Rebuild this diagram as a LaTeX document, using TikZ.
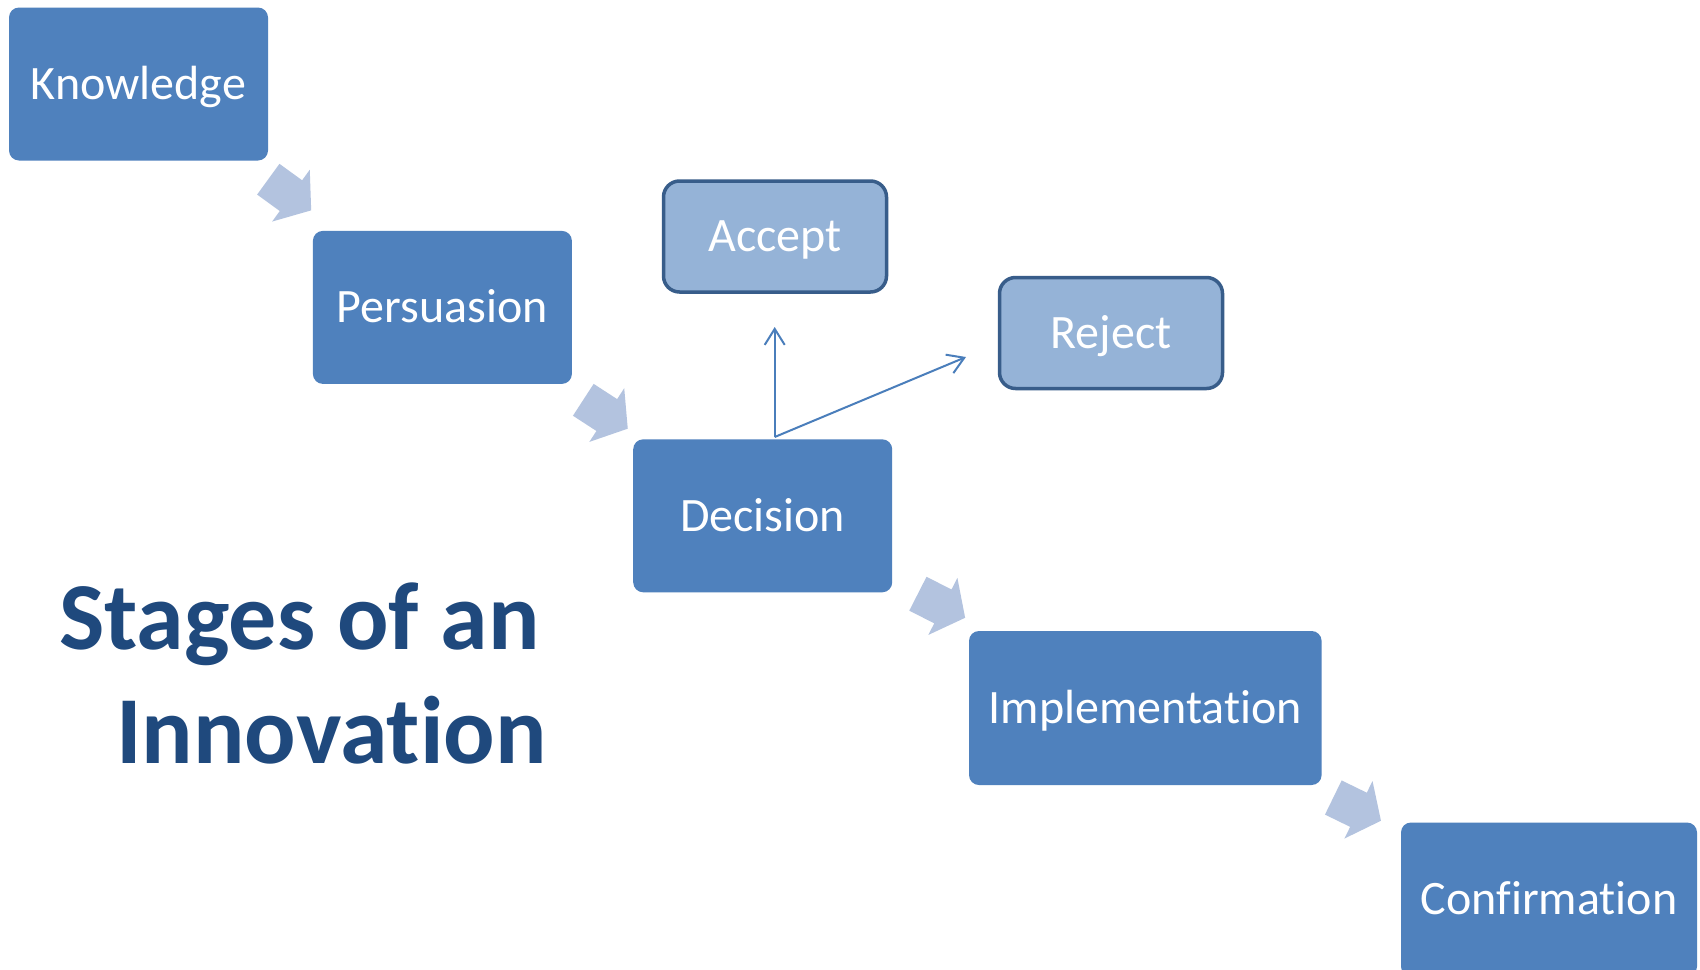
\documentclass[tikz,border=0pt]{standalone}
\usepackage{fontspec}
\setmainfont{Carlito}[Ligatures={NoCommon,NoRequired}]
\usetikzlibrary{arrows.meta}
\definecolor{boxblue}{HTML}{4F81BD}
\definecolor{lightbox}{HTML}{95B3D7}
\definecolor{lightborder}{HTML}{385D8A}
\definecolor{chevcol}{HTML}{B3C3DF}
\definecolor{titleblue}{HTML}{1F497D}
\definecolor{linkblue}{HTML}{4A7EBB}
\tikzset{
  stage/.style={fill=boxblue, draw=none, rounded corners=5pt, inner sep=0pt,
    text=white, font=\fontsize{24}{29}\selectfont, text height=15.4pt, text depth=0pt,
    minimum width=129.5pt, minimum height=76.5pt},
  choice/.style={fill=lightbox, draw=lightborder, line width=1.75pt, rounded corners=8pt, inner sep=0pt,
    text=white, font=\fontsize{24}{29}\selectfont, text height=15.4pt, text depth=0pt,
    minimum width=111.5pt, minimum height=55.5pt},
  titletext/.style={text=titleblue, font=\bfseries\fontsize{48}{58}\selectfont, inner sep=0pt},
  link/.style={draw=linkblue, line width=1pt, -{Straight Barb[length=8pt,width=10pt,line width=1pt]}},
  chev/.pic={\fill[chevcol] (0,-19) -- (28,-19) -- (28,-32) -- (53,0) -- (28,32) -- (28,19) -- (0,19) -- cycle;}
}
\begin{document}
\begin{tikzpicture}[x=0.5pt,y=-0.5pt]
\useasboundingbox (0,0) rectangle (1700,969);
\clip (0,0) rectangle (1700,969);
\fill[white] (0,0) rectangle (1700,969);

\node[stage] (knowledge) at (138.5,84) {Knowledge};
\node[stage] (persuasion) at (442.4,307.4) {Persuasion};
\node[stage] (decision) at (762.7,515.8) {Decision};
\node[stage, minimum width=176.3pt, minimum height=77pt] (implementation) at (1145.3,708) {Implementation};
\node[stage, minimum width=148pt, minimum height=77pt] (confirmation) at (1549,899.5) {Confirmation};

\node[choice] (accept) at (775,236.5) {Accept};
\node[choice] (reject) at (1111,333) {Reject};

\pic[rotate=-36] at (268.3,179.2) {chev};
\pic[rotate=-33] at (583.3,399.8) {chev};
\pic[rotate=-27] at (917.9,593.7) {chev};
\pic[rotate=-26] at (1333.3,797.5) {chev};

\coordinate (split) at (774.7,437);
\coordinate (accepttip) at (774.7,327);
\coordinate (rejecttip) at (966,357);
\draw[link] (split) -- (accepttip);
\draw[link] (split) -- (rejecttip);

\node[titletext, anchor=base east] (title1) at (540,649) {Stages of an};
\node[titletext, anchor=base east] (title2) at (547,763) {Innovation};
\end{tikzpicture}
\end{document}
